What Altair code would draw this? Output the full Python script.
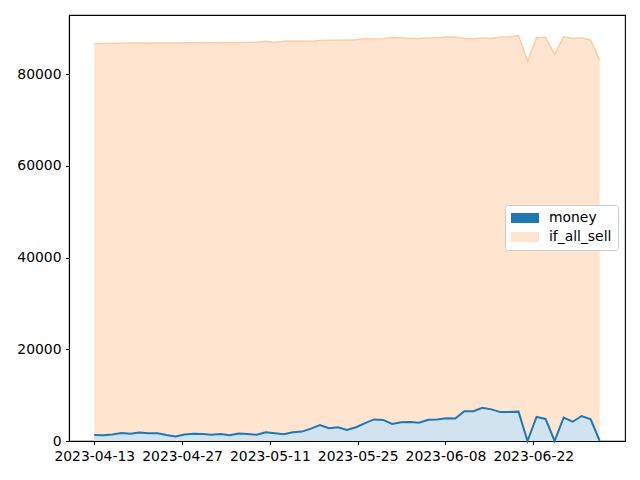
import altair as alt
import pandas as pd

# ---- data ----
start = "2023-04-13 00:00"
end = "2023-07-02 14:24"
n_points = 57

money = [1300, 1250, 1400, 1750, 1600, 1850, 1700, 1700, 1300, 1000,
         1400, 1600, 1500, 1350, 1500, 1250, 1650, 1500, 1350, 1900,
         1700, 1500, 1900, 2050, 2700, 3500, 2800, 3000, 2400, 3000,
         3900, 4700, 4600, 3700, 4100, 4150, 4000, 4650, 4700, 4950,
         4900, 6500, 6500, 7250, 6900, 6300, 6300, 6400, 0, 5230,
         4800, 0, 5080, 4200, 5450, 4730, 0]

if_all_sell = [86700, 86700, 86750, 86750, 86800, 86800, 86750, 86800, 86800, 86800,
               86850, 86850, 86900, 86850, 86900, 86850, 86900, 86900, 86950, 87150,
               86900, 87200, 87250, 87250, 87200, 87350, 87400, 87400, 87450, 87500,
               87800, 87650, 87700, 88000, 87950, 87800, 87800, 87900, 87950, 88100,
               88100, 87800, 87700, 87900, 87800, 88100, 88100, 88450, 82800, 88000,
               88000, 84300, 88150, 87800, 87950, 87400, 83000]

tick_dates = ["2023-04-13", "2023-04-27", "2023-05-11", "2023-05-25", "2023-06-08", "2023-06-22"]
y_ticks = [0, 20000, 40000, 60000, 80000]
series_names = ["money", "if_all_sell"]

dates = pd.date_range(start, end, periods=n_points)
df = pd.DataFrame({
    "date": dates.strftime("%Y-%m-%dT%H:%M:%S"),
    "money": money,
    "if_all_sell": if_all_sell,
})

span = dates[-1] - dates[0]
d0 = dates[0] - span * 0.05
d1 = dates[-1] + span * 0.05


def dt(t):
    return alt.DateTime(year=t.year, month=t.month, date=t.day,
                        hours=t.hour, minutes=t.minute, seconds=t.second)


x_scale = alt.Scale(domain=[dt(d0), dt(d1)])
y_scale = alt.Scale(domain=[0, 92900], nice=False, zero=True)

x_axis = alt.Axis(values=[dt(pd.Timestamp(t)) for t in tick_dates], format="%Y-%m-%d",
                  title=None, labelFlush=False, labelOverlap=False, grid=False)
y_axis = alt.Axis(values=y_ticks, format="d", title=None, grid=False)

base = alt.Chart(df)

orange = base.mark_area(
    color="#ffe5cf", opacity=1,
    line={"color": "#ffcda3", "strokeWidth": 1.5},
).encode(
    x=alt.X("date:T", scale=x_scale, axis=x_axis),
    y=alt.Y("if_all_sell:Q", scale=y_scale, axis=y_axis),
)

blue = base.mark_area(
    color="#d2e3f0", opacity=1,
    line={"color": "#1f77b4", "strokeWidth": 2},
).encode(
    x=alt.X("date:T", scale=x_scale),
    y=alt.Y("money:Q", scale=y_scale),
)

legend_layer = base.transform_fold(
    ["money", "if_all_sell"], as_=["series", "value"]
).mark_point(opacity=0, filled=True).encode(
    x=alt.X("date:T", scale=x_scale),
    y=alt.Y("value:Q", scale=y_scale),
    color=alt.Color(
        "series:N",
        scale=alt.Scale(domain=series_names, range=["#1f77b4", "#ffe5cf"]),
        legend=alt.Legend(
            title=None, orient="none", legendX=436, legendY=190,
            symbolType="M-2,-0.72H2V0.72H-2Z", symbolSize=196,
            symbolOffset=7,
            symbolOpacity=1, symbolStrokeWidth=0,
            labelFont="DejaVu Sans", labelFontSize=13.9, labelColor="black",
            labelOffset=17, rowPadding=5,
            fillColor="white", strokeColor="#cccccc", cornerRadius=3,
            padding=6,
        ),
    ),
)

chart = alt.layer(orange, blue, legend_layer).properties(
    width=556, height=426,
    padding={"left": 61, "top": 7, "right": 7, "bottom": 31},
    autosize=alt.AutoSizeParams(type="none"),
).configure_view(
    stroke="black", strokeWidth=1.1,
).configure_axis(
    labelFont="DejaVu Sans", labelFontSize=13.9, labelColor="black",
    tickColor="black", domainColor="black", tickSize=3.5, tickWidth=1.1,
    domainWidth=1.1, labelPadding=4.5,
)

chart.save("out.html", embed_options={"renderer": "svg", "actions": False})
